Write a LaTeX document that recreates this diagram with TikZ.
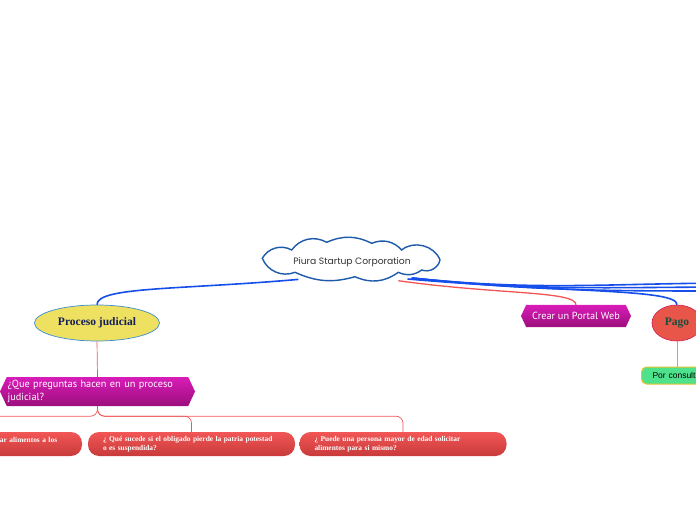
\documentclass[tikz,border=0pt]{standalone}
\usepackage{fontspec}
\setmainfont{Liberation Serif}
\newfontfamily\handfont{Poppins}
\newfontfamily\tagfont{PT Sans}
\newfontfamily\plainfont{Liberation Sans}
\definecolor{mapblue}{RGB}{22,78,235}
\definecolor{cloudblue}{RGB}{30,90,170}
\definecolor{mapred}{RGB}{242,84,84}
\definecolor{topicyellow}{RGB}{238,224,96}
\definecolor{topicborder}{RGB}{60,140,210}
\definecolor{topicnavy}{RGB}{20,30,90}
\definecolor{pagored}{RGB}{232,86,74}
\definecolor{pagoborder}{RGB}{215,35,80}
\definecolor{pagogreen}{RGB}{20,80,60}
\definecolor{tagtop}{RGB}{216,28,184}
\definecolor{tagbottom}{RGB}{156,14,124}
\definecolor{itemtop}{RGB}{242,86,86}
\definecolor{itembottom}{RGB}{200,58,58}
\definecolor{notegreen}{RGB}{78,226,140}
\definecolor{noteborder}{RGB}{228,196,48}
\definecolor{lightlink}{RGB}{140,170,240}
\usepackage{tikz}
\usetikzlibrary{shapes.geometric, shapes.symbols}
\tikzset{
  cloudline/.style={draw=cloudblue, line width=1.4pt, fill=white},
  mainidea/.style={ellipse, minimum width=172pt, minimum height=44pt, inner sep=0pt,
                   font=\handfont\fontsize{9.2}{11}\selectfont, text=black!80},
  topic/.style={ellipse, draw=#1, line width=0.7pt, minimum height=36pt,
                inner sep=0pt, font=\bfseries\fontsize{11.5}{13}\selectfont},
  tagbox/.style={signal, signal to=west and east, signal pointer angle=130,
                 top color=tagtop, bottom color=tagbottom, draw=none,
                 text=white, font=\tagfont\fontsize{10.3}{12.5}\selectfont,
                 align=left, inner sep=0pt},
  qitem/.style={rectangle, rounded corners=11pt, top color=itemtop,
                bottom color=itembottom, text=white, minimum height=24pt,
                inner xsep=15pt, text width=177pt, align=left,
                font=\bfseries\fontsize{7.4}{9}\selectfont},
  link/.style={line width=1.6pt, mapblue},
  redlink/.style={line width=1.3pt, mapred},
  sublink/.style={line width=0.7pt, mapred, rounded corners=7pt},
}

\begin{document}
\begin{tikzpicture}[x=1pt, y=1pt]
  \useasboundingbox (0,0) rectangle (696,520);
  \clip (0,0) rectangle (696,520);
  % cloud outline (puffs hardcoded round the centre)
  \begin{scope}[shift={(351,261)}]
    \draw[cloudline] (-88.7,0.7)
      \foreach \x/\y/\b in {-59.3/9/45, -24.3/16.7/42, 20.7/15.7/25, 50.7/9/35,
                            89/-1/55, 70.7/-11/50, 47.3/-13.3/30, 4/-17.7/30,
                            -56/-13.3/20, -88.7/0.7/45}{
        to[bend left=\b] (\x,\y)
      } -- cycle;
  \end{scope}
  % central idea
  \node[mainidea] (cloud) at (352,258) {Piura Startup Corporation};
  % main topics
  \node[topic=topicborder, fill=topicyellow, text=topicnavy, minimum width=125pt] (proc) at (97,197) {Proceso judicial};
  \node[tagbox, minimum width=110pt, minimum height=22pt] (web) at (576,204) {Crear un Portal Web};
  \node[topic=pagoborder, fill=pagored, text=pagogreen, minimum width=50pt] (pago) at (677,197) {Pago};
  % subtopics
  \node[tagbox, minimum width=195pt, minimum height=29pt, text width=180pt] (qbox) at (97.5,128.5)
    {¿Que preguntas hacen en un proceso\\judicial?};
  \node[draw=noteborder, line width=1pt, fill=notegreen, rounded corners=5pt,
        minimum height=17pt, inner xsep=11pt, inner ysep=0pt, text width=62pt, align=left,
        font=\plainfont\fontsize{8.5}{9}\selectfont, anchor=west] (note) at (641,144.5) {Por consult};
  % questions
  \node[qitem] (qa) at (-21.5,76) {\hspace*{110pt}ar alimentos a los\\\mbox{}};
  \node[qitem] (qb) at (191.5,76) {¿ Qué sucede si el obligado pierde la patria potestad\\o es suspendida?};
  \node[qitem] (qc) at (403,76) {¿ Puede una persona mayor de edad solicitar\\alimentos para si mismo?};
  % links leaving the picture
  \coordinate (offA) at (740,237);
  \coordinate (offB) at (740,233);
  \coordinate (offC) at (740,229);
  % connectors
  \draw[link] (cloud.198) to[out=185, in=90, out distance=120pt, in distance=18pt] (proc.north);
  \draw[redlink] (cloud.338) to[out=-8, in=90, out distance=100pt, in distance=14pt] (web.north);
  \draw[link] (cloud.343) to[out=-5, in=90, out distance=160pt, in distance=16pt] (pago.north);
  \foreach \c in {offA, offB, offC}{
    \draw[link] (cloud.345) to[out=-6, in=180] (\c);
  }
  \draw[redlink, line width=0.7pt] (proc.south) -- (qbox.north);
  \foreach \c in {qa, qb, qc}{
    \draw[sublink] (qbox.south) -- ++(0,-10) -| (\c.north);
  }
  \draw[lightlink, line width=0.7pt] (pago.south) -- (pago.south |- note.north);
\end{tikzpicture}
\end{document}
